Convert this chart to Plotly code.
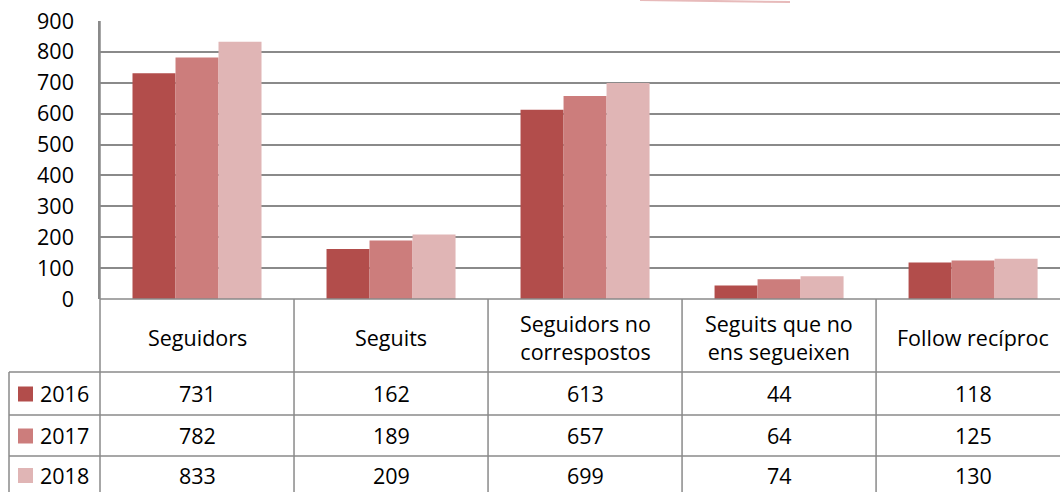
import plotly.graph_objects as go

categories = ['Seguidors', 'Seguits', 'Seguidors no<br>correspostos',
              'Seguits que no<br>ens segueixen', 'Follow recíproc']
years = ['2016', '2017', '2018']
v2016 = [731, 162, 613, 44, 118]
v2017 = [782, 189, 657, 64, 125]
v2018 = [833, 209, 699, 74, 130]
colors = ['#B24D4B', '#CC7D7C', '#E0B5B5']

GRID = '#8A8A8A'
FONT = 'Open Sans, Noto Sans, sans-serif'

fig = go.Figure()
for yr, vals, col in zip(years, [v2016, v2017, v2018], colors):
    fig.add_trace(go.Bar(
        name=yr, x=list(range(len(categories))), y=vals,
        marker=dict(color=col, line=dict(width=0)),
        showlegend=False,
    ))

XR = [-0.5, 4.448]
W, H = 1060, 492
L, T, B = 100, 21, 193
plot_h = H - T - B

def px_x(d):
    return (d - XR[0]) / (XR[1] - XR[0])

def py(p):
    # pixel row -> paper y
    return (H - B - p) / plot_h

def pxp(p):
    # pixel column -> paper x
    return (p - L) / (W - L)

shapes = []
line = dict(color=GRID, width=1.5)
# horizontal table lines
y_head, y_r1, y_r2, y_end = py(372), py(415), py(456), py(510)
shapes.append(dict(type='line', xref='paper', yref='paper', x0=0, x1=1.02, y0=0, y1=0, line=line))
for yy in [y_head, y_r1, y_r2]:
    shapes.append(dict(type='line', xref='paper', yref='paper', x0=pxp(9), x1=1.02, y0=yy, y1=yy, line=line))
# vertical table lines
shapes.append(dict(type='line', xref='paper', yref='paper', x0=pxp(9), x1=pxp(9), y0=y_head, y1=y_end, line=line))
for k in range(len(categories)):
    xx = px_x(k - 0.5)
    shapes.append(dict(type='line', xref='paper', yref='paper', x0=xx, x1=xx,
                       y0=1 if k == 0 else 0, y1=y_end, line=line))
# legend keys
row_c = [(372 + 415) / 2, (415 + 456) / 2, (456 + 494) / 2]
for col, rc in zip(colors, row_c):
    shapes.append(dict(type='rect', xref='paper', yref='paper',
                       x0=pxp(18), x1=pxp(33), y0=py(rc + 8), y1=py(rc - 7),
                       fillcolor=col, line=dict(width=0)))
# faint decorative stroke at top
shapes.append(dict(type='path', xref='paper', yref='paper',
                   path=f'M {pxp(640)},{py(0)} Q {pxp(740)},{py(1)} {pxp(790)},{py(2)}',
                   line=dict(color='rgba(215,140,140,0.6)', width=2)))

ann = []
tf = dict(family=FONT, size=21.5, color='#000000')
for k, c in enumerate(categories):
    ann.append(dict(xref='paper', yref='paper', x=px_x(k), y=py(337), text=c,
                    showarrow=False, font=tf, xanchor='center', yanchor='middle'))
for yr, vals, rc in zip(years, [v2016, v2017, v2018], row_c):
    ann.append(dict(xref='paper', yref='paper', x=pxp(38), y=py(rc), text=yr,
                    showarrow=False, font=tf, xanchor='left', yanchor='middle'))
    for k, v in enumerate(vals):
        ann.append(dict(xref='paper', yref='paper', x=px_x(k), y=py(rc), text=str(v),
                        showarrow=False, font=tf, xanchor='center', yanchor='middle'))

fig.update_layout(
    width=W, height=H,
    margin=dict(l=L, r=0, t=T, b=B),
    paper_bgcolor='white', plot_bgcolor='white',
    barmode='group', bargap=0.335, bargroupgap=0,
    font=tf,
    xaxis=dict(range=XR, showticklabels=False, showgrid=False, zeroline=False,
               showline=False, ticks=''),
    yaxis=dict(range=[0, 900], dtick=100, showgrid=True, gridcolor=GRID, gridwidth=1.5,
               zeroline=False, showline=True, linecolor=GRID, linewidth=1.5,
               ticks='outside', ticklen=0, ticklabelstandoff=20,
               tickfont=tf),
    shapes=shapes, annotations=ann,
)

fig.write_html('out.html', config={'displayModeBar': False},
               post_script="document.body.style.margin='0';")
